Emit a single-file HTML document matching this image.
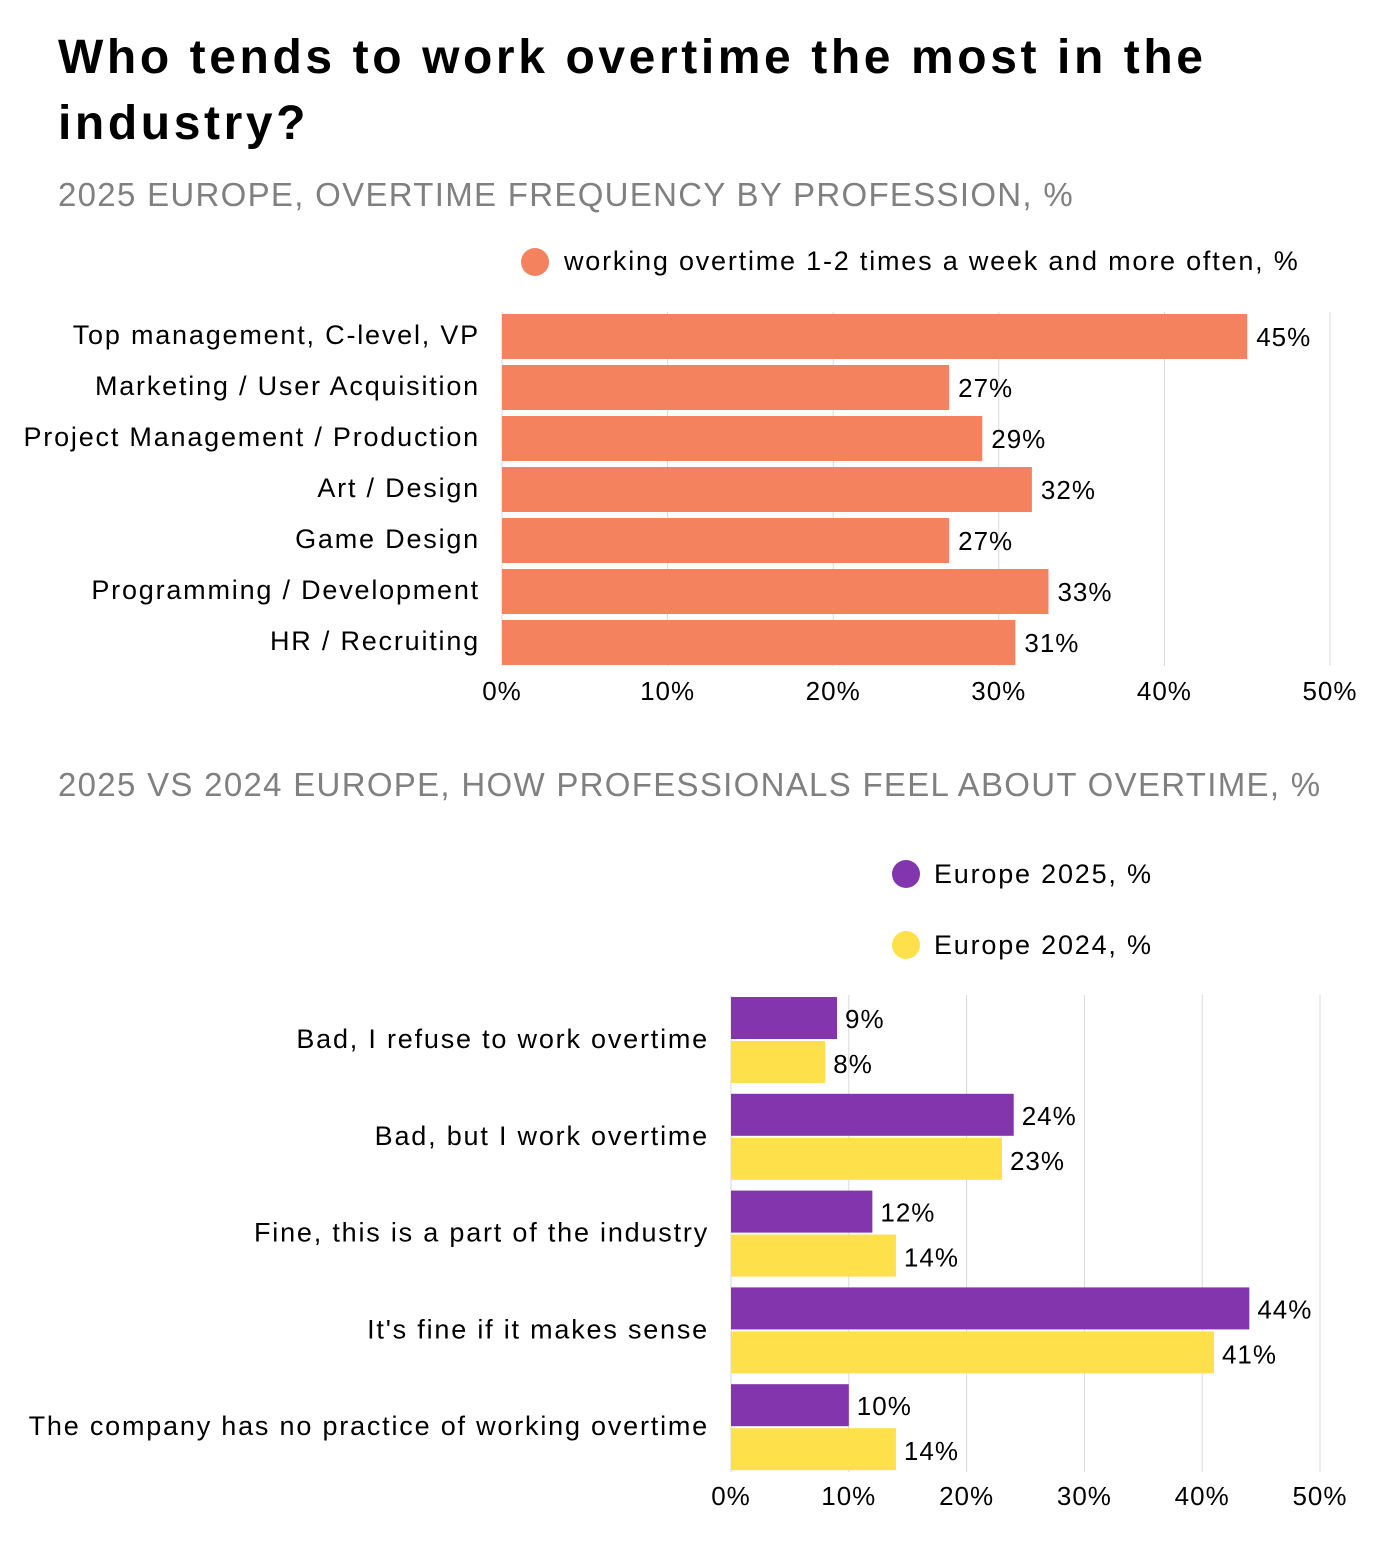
<!DOCTYPE html>
<html><head><meta charset="utf-8">
<style>
body{margin:0;background:#fff;font-family:"Liberation Sans",sans-serif;}
#root{position:relative;width:1396px;height:1568px;overflow:hidden;}
.title{position:absolute;left:58px;top:25px;font-size:48px;font-weight:bold;line-height:66px;color:#000;letter-spacing:3.6px;width:1330px;}
.sub{position:absolute;left:58px;font-size:33px;color:#808080;letter-spacing:1.3px;}
svg text{font-family:"Liberation Sans",sans-serif;}
.lbl{letter-spacing:1.8px;}
.val{letter-spacing:1px;}
</style></head>
<body><div id="root">
<div class="title">Who tends to work overtime the most in the<br>industry?</div>
<div class="sub" style="top:176px">2025 EUROPE, OVERTIME FREQUENCY BY PROFESSION, %</div>
<div class="sub" style="top:766px">2025 VS 2024 EUROPE, HOW PROFESSIONALS FEEL ABOUT OVERTIME, %</div>
<svg id="svg" width="1396" height="1568" style="position:absolute;left:0;top:0"></svg>
</div>
<script>
const cats1=["Top management, C-level, VP","Marketing / User Acquisition","Project Management / Production","Art / Design","Game Design","Programming / Development","HR / Recruiting"];
const vals1=[45,27,29,32,27,33,31];
const cats2=["Bad, I refuse to work overtime","Bad, but I work overtime","Fine, this is a part of the industry","It's fine if it makes sense","The company has no practice of working overtime"];
const vals2025=[9,24,12,44,10];
const vals2024=[8,23,14,41,14];
const ticks=[0,10,20,30,40,50];

const svg=document.getElementById('svg');
const NS='http://www.w3.org/2000/svg';
function mk(tag,attrs,txt){const e=document.createElementNS(NS,tag);for(const k in attrs)e.setAttribute(k,attrs[k]);if(txt!==undefined)e.textContent=txt;svg.appendChild(e);return e;}

// chart 1
const x1=v=>502+v*(1330-502)/50;
const y1=i=>314+i*51;
ticks.forEach(t=>{
  const g=mk('line',{x1:x1(t),x2:x1(t),y1:312,y2:666,stroke:'#d9d9d9','stroke-width':1});
  
  
  const l=mk('text',{x:x1(t),y:700,'font-size':26,'text-anchor':'middle',fill:'#000','class':'val'},t+'%');
  
  
});
cats1.forEach((c,i)=>{
  const r=mk('rect',{x:x1(0),y:y1(i),width:x1(vals1[i])-x1(0),height:45,fill:'#f4825e'});
  
  
  const v=mk('text',{x:x1(vals1[i])+9,y:y1(i)+32,'font-size':26,fill:'#000','class':'val'},vals1[i]+'%');
  
  
  const l=mk('text',{x:480,y:y1(i)+30,'font-size':27,'text-anchor':'end',fill:'#000','class':'lbl'},c);
  
  
});
let lg=mk('circle',{cx:535,cy:262,r:14,fill:'#f4825e'});


lg=mk('text',{x:564,y:270,'font-size':27,fill:'#000','class':'lbl'},'working overtime 1-2 times a week and more often, %');



// chart 2
const x2=v=>731+v*(1320-731)/50;
const y2=i=>997+i*96.8;
ticks.forEach(t=>{
  const g=mk('line',{x1:x2(t),x2:x2(t),y1:995,y2:1472,stroke:'#d9d9d9','stroke-width':1});
  
  
  const l=mk('text',{x:x2(t),y:1505,'font-size':26,'text-anchor':'middle',fill:'#000','class':'val'},t+'%');
  
  
});
cats2.forEach((c,i)=>{
  const y=y2(i);
  const a=mk('rect',{x:x2(0),y:y,width:x2(vals2025[i])-x2(0),height:42,fill:'#8235ad'});
  
  
  const b=mk('rect',{x:x2(0),y:y+44,width:x2(vals2024[i])-x2(0),height:42,fill:'#fde04a'});
  
  
  const va=mk('text',{x:x2(vals2025[i])+8,y:y+31,'font-size':26,fill:'#000','class':'val'},vals2025[i]+'%');
  
  
  const vb=mk('text',{x:x2(vals2024[i])+8,y:y+76,'font-size':26,fill:'#000','class':'val'},vals2024[i]+'%');
  
  
  const l=mk('text',{x:709,y:y+51,'font-size':27,'text-anchor':'end',fill:'#000','class':'lbl'},c);
  
  
});
lg=mk('circle',{cx:906,cy:874,r:14,fill:'#8235ad'});


lg=mk('text',{x:934,y:883,'font-size':27,fill:'#000','class':'lbl'},'Europe 2025, %');


lg=mk('circle',{cx:906,cy:945,r:14,fill:'#fde04a'});


lg=mk('text',{x:934,y:954,'font-size':27,fill:'#000','class':'lbl'},'Europe 2024, %');


</script>
</body></html>
